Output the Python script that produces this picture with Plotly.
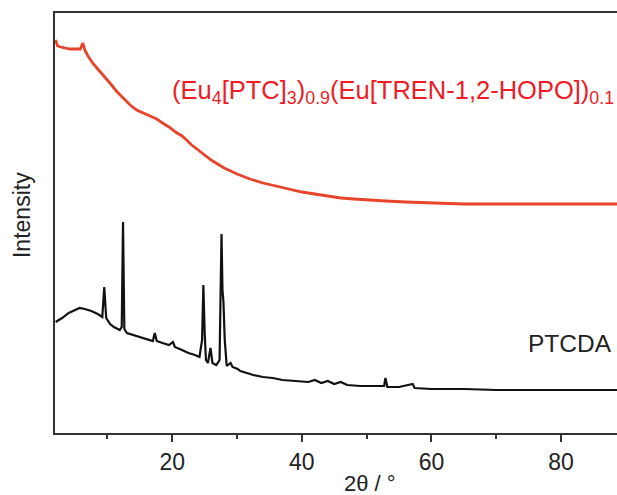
import plotly.graph_objects as go

# ---- data (2theta in degrees, intensity in arbitrary units) ----
red_x = [2.0, 2.3, 2.8, 3.5, 4.2, 5.0, 5.8, 6.2, 6.5, 7.0, 7.7, 8.5, 9.5, 10.5, 11.5,
         12.5, 13.5, 14.5, 15.5, 16.5, 17.6, 18.5, 19.5, 20.5, 21.5, 22.2, 23, 24, 25,
         26, 27, 28, 29, 30, 32, 34, 36, 38, 40, 42, 44, 46, 48, 50, 53, 56, 60, 65,
         70, 75, 80, 85, 88.7]
red_y = [393, 387, 386, 385, 384, 384, 384, 390, 383, 377, 370, 364, 357, 349, 341,
         334, 328, 323, 320, 317, 314, 310, 306, 301, 297, 293, 288, 283, 278,
         273, 269, 265, 262, 259, 254, 250, 247, 244, 241, 239, 237, 235, 234, 233,
         232, 231, 230, 229, 229, 229, 229, 229, 229]

black_x = [2.0, 3.0, 4.0, 5.0, 5.7, 6.5, 7.5, 8.5, 9.2, 9.5, 9.8, 10.4, 11.0, 11.9,
           12.2, 12.4, 12.6, 13.0, 14.0, 15.0, 16.0, 17.0, 17.3, 17.6, 18.5, 19.5,
           20.1, 20.4, 21.5, 22.5, 23.5, 24.2, 24.6, 24.8, 25.0, 25.2, 25.5, 25.9,
           26.2, 26.8, 27.3, 27.6, 27.75, 27.9, 28.1, 28.4, 29.0, 29.3, 30.1, 30.5,
           31.5, 32.5, 34.0, 35.5, 37.0, 39.0, 41.0, 42.0, 43.0, 44.0, 45.0, 46.0,
           47.0, 49.0, 51.0, 52.7, 52.9, 53.2, 55.0, 57.1, 57.4, 60.0, 65.0, 70.0,
           75.0, 80.0, 85.0, 88.7]
black_y = [111, 115, 120, 123, 125, 124, 122, 119, 116, 146, 115, 109, 106, 103,
           106, 211, 104, 100, 98, 96, 94, 92, 100, 92, 90, 88,
           91, 86, 83, 80, 78, 76, 93, 148, 100, 73, 70, 85,
           70, 68, 73, 199, 143, 131, 93, 67, 70, 66, 64, 62,
           60, 58, 56, 55, 53, 52, 51, 53, 50, 52, 49, 51,
           48, 47, 47, 47, 55, 46, 46, 49, 45, 44, 44, 43,
           43, 43, 43, 43]

x_ticks = [20, 40, 60, 80]
red_label = "(Eu<sub>4</sub>[PTC]<sub>3</sub>)<sub>0.9</sub>(Eu[TREN-1,2-HOPO])<sub>0.1</sub>"
black_label = "PTCDA"

FONT = "Liberation Sans, Arial, sans-serif"

fig = go.Figure()
fig.add_trace(go.Scatter(x=red_x, y=red_y, mode="lines",
                         line=dict(color="#e8432b", width=2.8), showlegend=False))
fig.add_trace(go.Scatter(x=black_x, y=black_y, mode="lines",
                         line=dict(color="#111111", width=2.2), showlegend=False))

fig.update_layout(
    width=617, height=495,
    margin=dict(l=55, r=0, t=13, b=62),
    paper_bgcolor="white", plot_bgcolor="white",
    font=dict(family=FONT, size=23, color="#222222"),
    xaxis=dict(range=[1.9, 88.64], tickvals=x_ticks, ticks="outside", ticklen=7,
               tickwidth=1.5, tickcolor="#333333", showline=True, linewidth=2,
               linecolor="#333333", mirror=True, showgrid=False, zeroline=False,
               minor=dict(dtick=10, tick0=0, ticks="outside", ticklen=4,
                          tickwidth=1.5, tickcolor="#333333", showgrid=False)),
    yaxis=dict(range=[0, 420], showticklabels=False, ticks="", showline=True,
               linewidth=2, linecolor="#333333", showgrid=False, zeroline=False),
    annotations=[
        dict(text="2θ / °", xref="x", yref="paper", x=50.5, y=0, yshift=-50,
             xanchor="center", yanchor="middle", showarrow=False,
             font=dict(family=FONT, size=22, color="#222222")),
        dict(text="Intensity", xref="paper", yref="paper", x=0, xshift=-33,
             y=0.519, textangle=-90, xanchor="center", yanchor="middle",
             showarrow=False, font=dict(family=FONT, size=23, color="#222222")),
        dict(text=red_label, xref="x", yref="y", x=19.7, y=341, xanchor="left",
             yanchor="middle", showarrow=False,
             font=dict(family=FONT, size=25.5, color="#ee1c25")),
        dict(text=black_label, xref="x", yref="y", x=74.6, y=90, xanchor="left",
             yanchor="middle", showarrow=False,
             font=dict(family=FONT, size=24.5, color="#222222")),
    ],
)

fig.write_html("out.html")
